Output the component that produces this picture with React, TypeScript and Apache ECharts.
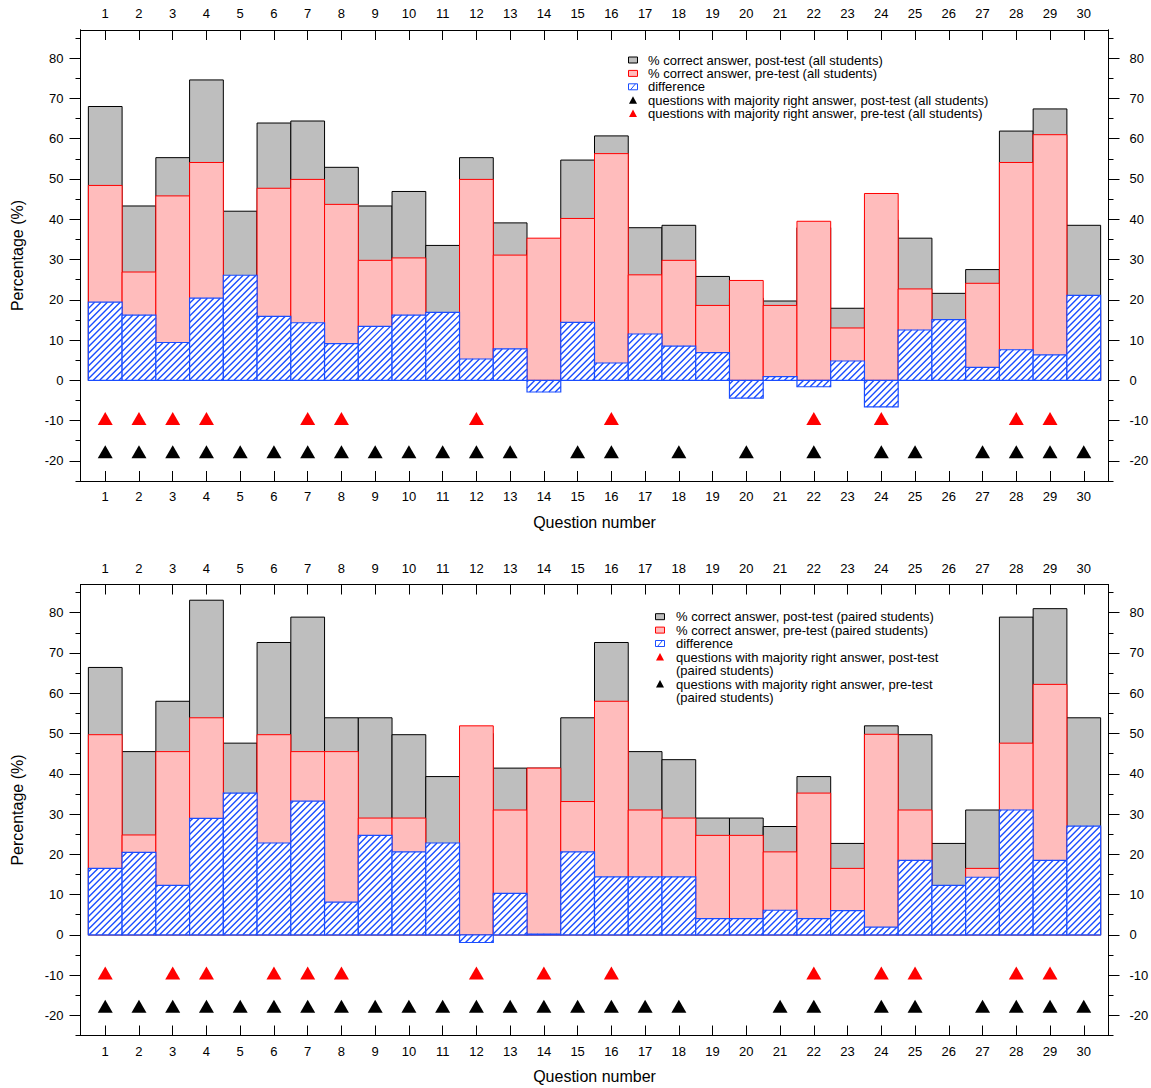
import React, { useEffect, useRef } from "react";
import * as echarts from "echarts";

// ---------- data ----------
const questions = [1, 2, 3, 4, 5, 6, 7, 8, 9, 10, 11, 12, 13, 14, 15, 16, 17, 18, 19, 20, 21, 22, 23, 24, 25, 26, 27, 28, 29, 30];

// Top panel: all students
const allPost = [68.0, 43.3, 55.3, 74.6, 42.0, 63.9, 64.4, 52.9, 43.3, 46.9, 33.5, 55.3, 39.1, 32.4, 54.7, 60.7, 37.9, 38.5, 25.8, 20.4, 19.7, 37.9, 17.9, 39.8, 35.3, 21.6, 27.5, 61.9, 67.4, 38.5];
const allPre = [48.4, 26.9, 45.8, 54.1, 15.9, 47.7, 49.9, 43.7, 29.8, 30.4, 16.6, 49.9, 31.1, 35.3, 40.2, 56.3, 26.2, 29.8, 18.6, 24.8, 18.6, 39.5, 13.0, 46.4, 22.7, 6.5, 24.1, 54.1, 61.0, 17.4];
const allDiff = [19.4, 16.2, 9.4, 20.4, 26.1, 15.9, 14.3, 9.1, 13.4, 16.2, 16.9, 5.3, 7.8, -2.9, 14.4, 4.3, 11.5, 8.5, 6.9, -4.4, 0.9, -1.6, 4.8, -6.6, 12.5, 15.1, 3.2, 7.6, 6.3, 21.1];
const allRedMarks = [1, 2, 3, 4, 7, 8, 12, 16, 22, 24, 28, 29];
const allBlackMarks = [1, 2, 3, 4, 5, 6, 7, 8, 9, 10, 11, 12, 13, 15, 16, 18, 20, 22, 24, 25, 27, 28, 29, 30];

// Bottom panel: paired students
const pairedPost = [66.4, 45.5, 58.0, 83.1, 47.6, 72.6, 78.9, 53.9, 53.9, 49.7, 39.3, 50.0, 41.4, 41.4, 53.9, 72.6, 45.5, 43.5, 29.0, 29.0, 26.9, 39.3, 22.7, 51.9, 49.7, 22.7, 31.0, 78.9, 81.0, 53.9];
const pairedPre = [49.7, 24.8, 45.5, 53.9, 12.4, 49.7, 45.5, 45.5, 29.0, 29.0, 16.5, 51.9, 31.0, 41.4, 33.1, 58.0, 31.0, 29.0, 24.7, 24.7, 20.6, 35.2, 16.5, 49.8, 31.0, 10.4, 16.5, 47.6, 62.2, 26.9];
const pairedDiff = [16.5, 20.5, 12.3, 28.9, 35.2, 22.8, 33.2, 8.1, 24.7, 20.6, 22.8, -1.9, 10.3, 0.2, 20.6, 14.4, 14.4, 14.4, 4.0, 4.0, 6.1, 4.0, 6.0, 1.9, 18.5, 12.3, 14.3, 31.0, 18.5, 27.0];
const pairedRedMarks = [1, 3, 4, 6, 7, 8, 12, 14, 16, 22, 24, 25, 28, 29];
const pairedBlackMarks = [1, 2, 3, 4, 5, 6, 7, 8, 9, 10, 11, 12, 13, 14, 15, 16, 17, 18, 21, 22, 24, 25, 27, 28, 29, 30];

const RED_LEVEL = -10;
const BLACK_LEVEL = -18;

const yMajorTicks = [-20, -10, 0, 10, 20, 30, 40, 50, 60, 70, 80];
const yMinorTicks = [-25, -15, -5, 5, 15, 25, 35, 45, 55, 65, 75, 85];

const allLegend = [
  "% correct answer, post-test (all students)",
  "% correct answer, pre-test (all students)",
  "difference",
  "questions with majority right answer, post-test (all students)",
  "questions with majority right answer, pre-test (all students)",
];
const pairedLegend = [
  "% correct answer, post-test (paired students)",
  "% correct answer, pre-test (paired students)",
  "difference",
  "questions with majority right answer, post-test",
  "(paired students)",
  "questions with majority right answer, pre-test",
  "(paired students)",
];

// ---------- styles ----------
const FONT = "'Liberation Sans', Arial, Helvetica, sans-serif";
const GRAY_FILL = "#bebebe";
const PINK_FILL = "#ffbcbc";
const RED = "#ff0000";
const BLUE = "#1a4dff";
const HATCH = 6.4;

function solidBar(fill: string, stroke: string) {
  return (params: any, api: any) => {
    const q = api.value(0);
    const v = api.value(1);
    const a = api.coord([q - 0.5, 0]);
    const b = api.coord([q + 0.5, v]);
    return {
      type: "rect",
      shape: {
        x: Math.min(a[0], b[0]),
        y: Math.min(a[1], b[1]),
        width: Math.abs(b[0] - a[0]),
        height: Math.abs(b[1] - a[1]),
      },
      style: { fill, stroke, lineWidth: 1 },
    };
  };
}

function hatchBar(params: any, api: any) {
  const q = api.value(0);
  const v = api.value(1);
  const a = api.coord([q - 0.5, 0]);
  const b = api.coord([q + 0.5, v]);
  const x0 = Math.min(a[0], b[0]);
  const x1 = Math.max(a[0], b[0]);
  const top = Math.min(a[1], b[1]);
  const bottom = Math.max(a[1], b[1]);
  const shape = { x: x0, y: top, width: x1 - x0, height: bottom - top };
  const children: any[] = [{ type: "rect", shape, style: { fill: "#ffffff", stroke: "none" } }];
  for (let c = Math.ceil((x0 + top) / HATCH) * HATCH; c <= x1 + bottom; c += HATCH) {
    const xa = Math.max(x0, c - bottom);
    const xb = Math.min(x1, c - top);
    if (xb - xa > 0.4) {
      children.push({
        type: "line",
        shape: { x1: xa, y1: c - xa, x2: xb, y2: c - xb },
        style: { stroke: BLUE, lineWidth: 1.4 },
      });
    }
  }
  children.push({ type: "rect", shape, style: { fill: "none", stroke: BLUE, lineWidth: 1.2 } });
  return { type: "group", children };
}

function xAxes(gridIndex: number, withName: boolean) {
  const common = {
    gridIndex,
    type: "value",
    min: 0.267,
    max: 30.733,
    splitLine: { show: false },
    axisLine: { show: true, onZero: false, lineStyle: { color: "#000", width: 1 } },
    axisTick: { show: true, inside: true, length: 10, customValues: questions, lineStyle: { color: "#000" } },
    axisLabel: { show: true, margin: 9, fontSize: 13, color: "#000", fontFamily: FONT, customValues: questions },
  };
  return [
    {
      ...common,
      position: "bottom",
      name: withName ? "Question number" : "",
      nameLocation: "middle",
      nameGap: 33,
      nameTextStyle: { fontSize: 16, color: "#000", fontFamily: FONT },
    },
    { ...common, position: "top", axisLabel: { ...common.axisLabel, margin: 10 } },
  ];
}

function yAxes(gridIndex: number) {
  const base = {
    gridIndex,
    type: "value",
    min: -25,
    max: 87,
    splitLine: { show: false },
    axisLine: { show: true, onZero: false, lineStyle: { color: "#000", width: 1 } },
  };
  const major = (position: string, margin: number, named: boolean) => ({
    ...base,
    position,
    axisTick: { show: true, inside: false, length: 11, customValues: yMajorTicks, lineStyle: { color: "#000" } },
    axisLabel: { show: true, margin, fontSize: 13, color: "#000", fontFamily: FONT, customValues: yMajorTicks },
    name: named ? "Percentage (%)" : "",
    nameLocation: "middle",
    nameRotate: 90,
    nameGap: 55,
    nameTextStyle: { fontSize: 16, color: "#000", fontFamily: FONT },
  });
  const minor = (position: string) => ({
    ...base,
    position,
    axisTick: { show: true, inside: false, length: 5, customValues: yMinorTicks, lineStyle: { color: "#000" } },
    axisLabel: { show: false },
  });
  return [major("left", 17, true), minor("left"), major("right", 21, false), minor("right")];
}

function panelSeries(xIdx: number, yIdx: number, post: number[], pre: number[], diff: number[], red: number[], black: number[]) {
  const pairs = (vals: number[]) => questions.map((q, i) => [q, vals[i]]);
  return [
    { type: "custom", xAxisIndex: xIdx, yAxisIndex: yIdx, renderItem: solidBar(GRAY_FILL, "#000"), data: pairs(post), encode: { x: 0, y: 1 }, z: 2 },
    { type: "custom", xAxisIndex: xIdx, yAxisIndex: yIdx, renderItem: solidBar(PINK_FILL, RED), data: pairs(pre), encode: { x: 0, y: 1 }, z: 3 },
    { type: "custom", xAxisIndex: xIdx, yAxisIndex: yIdx, renderItem: hatchBar, data: pairs(diff), encode: { x: 0, y: 1 }, z: 4 },
    {
      type: "scatter", xAxisIndex: xIdx, yAxisIndex: yIdx, symbol: "triangle", symbolSize: [15, 13], symbolOffset: [0, -2],
      itemStyle: { color: RED, opacity: 1 }, data: red.map((q) => [q, RED_LEVEL]), z: 5,
    },
    {
      type: "scatter", xAxisIndex: xIdx, yAxisIndex: yIdx, symbol: "triangle", symbolSize: [15, 13], symbolOffset: [0, -1],
      itemStyle: { color: "#000", opacity: 1 }, data: black.map((q) => [q, BLACK_LEVEL]), z: 5,
    },
  ];
}

type Icon = "gray" | "pink" | "hatch" | "black" | "red" | "none";

function legendGraphic(iconX: number, textX: number, rows: number[], texts: string[], icons: Icon[]) {
  const els: any[] = [];
  rows.forEach((y, i) => {
    const icon = icons[i];
    if (icon === "gray" || icon === "pink" || icon === "hatch") {
      const fill = icon === "gray" ? GRAY_FILL : icon === "pink" ? PINK_FILL : "#fff";
      const stroke = icon === "gray" ? "#000" : icon === "pink" ? RED : BLUE;
      els.push({ type: "rect", shape: { x: iconX, y: y - 3, width: 9, height: 6 }, style: { fill, stroke, lineWidth: 1 } });
      if (icon === "hatch") {
        els.push({ type: "line", shape: { x1: iconX + 2, y1: y + 3, x2: iconX + 7, y2: y - 3 }, style: { stroke: BLUE, lineWidth: 1 } });
      }
    } else if (icon === "black" || icon === "red") {
      els.push({
        type: "polygon",
        shape: { points: [[iconX + 0.5, y + 3.5], [iconX + 8.5, y + 3.5], [iconX + 4.5, y - 4]] },
        style: { fill: icon === "red" ? RED : "#000" },
      });
    }
    els.push({
      type: "text",
      x: textX,
      y,
      style: { text: texts[i], fontSize: 13, fontFamily: FONT, fill: "#000", verticalAlign: "middle", align: "left" },
    });
  });
  return els;
}

export default function App() {
  const ref = useRef<HTMLDivElement>(null);
  useEffect(() => {
    if (!ref.current) return;
    const chart = echarts.init(ref.current, null, { renderer: "svg" });
    const option: any = {
      animation: false,
      backgroundColor: "#fff",
      textStyle: { fontFamily: FONT },
      grid: [
        { left: 80.5, top: 30, width: 1028, height: 451, outerBoundsMode: "none" },
        { left: 80.5, top: 584.5, width: 1028, height: 451, outerBoundsMode: "none" },
      ],
      xAxis: [...xAxes(0, true), ...xAxes(1, true)],
      yAxis: [...yAxes(0), ...yAxes(1)],
      series: [
        ...panelSeries(0, 0, allPost, allPre, allDiff, allRedMarks, allBlackMarks),
        ...panelSeries(2, 4, pairedPost, pairedPre, pairedDiff, pairedRedMarks, pairedBlackMarks),
      ],
      graphic: [
        ...legendGraphic(628.5, 648, [60, 73.4, 86.8, 100.2, 113.6], allLegend, ["gray", "pink", "hatch", "black", "red"]),
        ...legendGraphic(655.5, 676, [616.7, 630.1, 643.5, 657, 670.4, 684, 697.4], pairedLegend, ["gray", "pink", "hatch", "red", "none", "black", "none"]),
      ],
    };
    chart.setOption(option);
    return () => chart.dispose();
  }, []);
  return <div ref={ref} style={{ position: "absolute", left: 0, top: 0, width: 1151, height: 1088 }} />;
}
